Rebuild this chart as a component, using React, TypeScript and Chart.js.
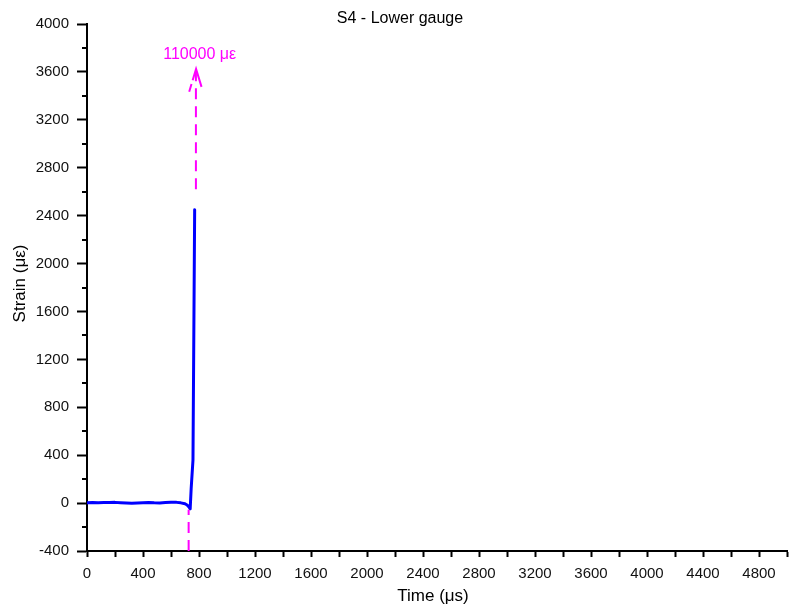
import React, { useEffect, useRef } from 'react';
import { Chart, registerables } from 'chart.js';

Chart.register(...registerables);

// Measured strain signal (time in µs, strain in µε)
const timeUs = [0, 40, 80, 120, 160, 200, 240, 280, 320, 360, 400, 440, 480, 520, 560, 600, 640, 670, 700, 715, 728, 737, 744, 757, 769];
const strainUe = [2, 4, 3, 5, 4, 6, 3, 0, -2, 0, 3, 5, 2, 1, 4, 8, 6, 2, -6, -16, -32, -48, 120, 360, 2450];

// Dashed magenta markers
const lowerMarkerTime = [726, 726];
const lowerMarkerStrain = [-400, -55];
const upperMarkerTime = [778, 778];
const upperMarkerStrain = [2620, 3600];
const arrowTime = [730, 779, 818];
const arrowStrain = [3435, 3625, 3475];
const annotationText = '110000 με';
const annotationTime = 805;
const annotationStrain = 3706;

const titleText = 'S4 - Lower gauge';
const xTitle = 'Time (μs)';
const yTitle = 'Strain (με)';

const xMin = 0, xMax = 5000, xStep = 200, xLabelEvery = 400;
const yMin = -400, yMax = 4000, yStep = 200, yLabelEvery = 400;

const FONT = 'Arial, "Liberation Sans", sans-serif';
const MAGENTA = '#ff00ff';

const toPts = (xs: number[], ys: number[]) => xs.map((x, i) => ({ x, y: ys[i] }));

export default function App() {
  const ref = useRef<HTMLCanvasElement | null>(null);

  useEffect(() => {
    document.body.style.margin = '0';
    const canvas = ref.current;
    if (!canvas) return;

    const textPlugin = {
      id: 'texts',
      afterDraw(chart: any) {
        const { ctx, scales } = chart;
        const x = scales.x;
        const y = scales.y;
        ctx.save();
        // minor y ticks (shorter)
        ctx.strokeStyle = '#000';
        ctx.lineWidth = 2;
        y.ticks.forEach((t: any) => {
          if (t.value % yLabelEvery !== 0) {
            const p = Math.round(y.getPixelForValue(t.value));
            ctx.beginPath();
            ctx.moveTo(y.right - 5, p);
            ctx.lineTo(y.right, p);
            ctx.stroke();
          }
        });
        ctx.fillStyle = '#000';
        ctx.font = `16px ${FONT}`;
        ctx.textAlign = 'center';
        ctx.textBaseline = 'alphabetic';
        ctx.fillText(titleText, 400, 23);
        ctx.font = `17px ${FONT}`;
        ctx.fillText(xTitle, (x.left + x.right) / 2 - 4, 601);
        ctx.save();
        ctx.translate(25, (y.top + y.bottom) / 2 - 4);
        ctx.rotate(-Math.PI / 2);
        ctx.fillText(yTitle, 0, 0);
        ctx.restore();
        ctx.font = `16px ${FONT}`;
        ctx.fillStyle = MAGENTA;
        ctx.fillText(annotationText, x.getPixelForValue(annotationTime), y.getPixelForValue(annotationStrain));
        ctx.restore();
      },
    };

    const chart = new Chart(canvas, {
      type: 'line',
      data: {
        datasets: [
          {
            data: toPts(lowerMarkerTime, lowerMarkerStrain),
            borderColor: MAGENTA,
            borderWidth: 2,
            borderDash: [11, 7],
            pointRadius: 0,
            fill: false,
          },
          {
            data: toPts(upperMarkerTime, upperMarkerStrain),
            borderColor: MAGENTA,
            borderWidth: 2,
            borderDash: [11, 7],
            pointRadius: 0,
            fill: false,
          },
          {
            data: toPts(arrowTime, arrowStrain),
            borderColor: MAGENTA,
            borderWidth: 2,
            borderDash: [8, 4, 40],
            borderJoinStyle: 'miter',
            pointRadius: 0,
            fill: false,
          },
          {
            data: toPts(timeUs, strainUe),
            borderColor: '#0000ff',
            borderWidth: 3,
            borderJoinStyle: 'round',
            borderCapStyle: 'round',
            pointRadius: 0,
            tension: 0,
            fill: false,
          },
        ],
      },
      options: {
        animation: false,
        responsive: false,
        devicePixelRatio: 1,
        layout: { padding: { top: 24, right: 6, left: 0, bottom: 0 } },
        plugins: {
          legend: { display: false },
          title: { display: false },
          tooltip: { enabled: false },
        },
        scales: {
          x: {
            type: 'linear',
            min: xMin,
            max: xMax,
            afterFit: (s: any) => { s.height = 60; },
            grid: {
              drawOnChartArea: false,
              drawTicks: true,
              tickLength: 6,
              tickWidth: 2,
              tickColor: '#000',
            },
            border: { display: true, color: '#000', width: 2 },
            ticks: {
              stepSize: xStep,
              autoSkip: false,
              maxRotation: 0,
              minRotation: 0,
              padding: 8,
              color: '#111',
              font: { family: FONT, size: 15 },
              callback: (v: any) => (Number(v) % xLabelEvery === 0 ? String(v) : ''),
            },
          },
          y: {
            type: 'linear',
            min: yMin,
            max: yMax,
            afterFit: (s: any) => { s.width = 87; },
            grid: {
              drawOnChartArea: false,
              drawTicks: true,
              tickLength: 10,
              tickWidth: 2,
              tickColor: (c: any) => (c.tick && c.tick.value % yLabelEvery === 0 ? '#000' : 'rgba(0,0,0,0)'),
            },
            border: { display: true, color: '#000', width: 2 },
            ticks: {
              stepSize: yStep,
              autoSkip: false,
              padding: 8,
              color: '#111',
              font: { family: FONT, size: 15 },
              callback: (v: any) => (Number(v) % yLabelEvery === 0 ? String(v) : ''),
            },
          },
        },
      },
      plugins: [textPlugin],
    } as any);

    return () => chart.destroy();
  }, []);

  return <canvas ref={ref} width={795} height={611} style={{ display: 'block' }} />;
}
